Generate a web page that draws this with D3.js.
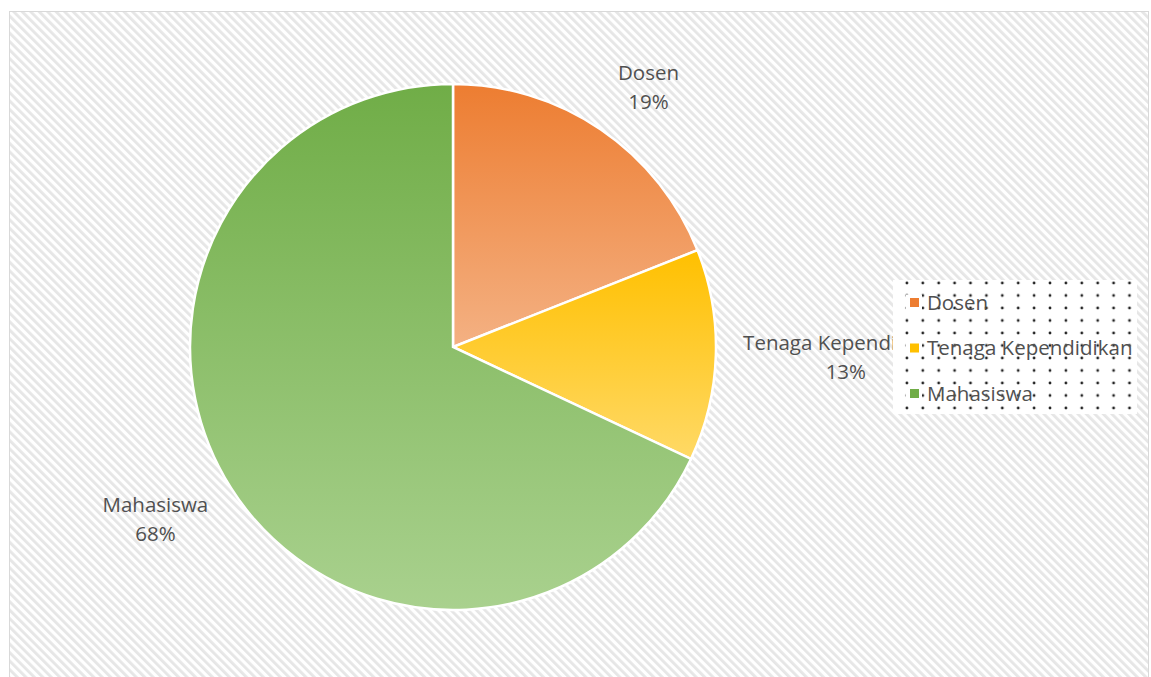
<!DOCTYPE html>
<html lang="en">
<head>
    <meta charset="UTF-8">
    <title>Pie</title>
    <script src="https://d3js.org/d3.v7.min.js"></script>
    <style>
        body { margin: 0; background: #fff; }
        text { font-family: "Open Sans", "Noto Sans", sans-serif; fill: #505050; }
    </style>
</head>
<body>
<svg width="1151" height="677"></svg>
<script>
    // data
    const categories = ["Dosen", "Tenaga Kependidikan", "Mahasiswa"];
    const values = [19, 13, 68];
    const percentLabels = ["19%", "13%", "68%"];

    const colorTop = ["#ED7D31", "#FFC000", "#70AD47"];
    const colorBottom = ["#F4B183", "#FFD966", "#A9D18E"];

    const width = 1151, height = 677;
    const cx = 453, cy = 347, radius = 263;
    const fontSize = 20.5, lineH = 29;
    // label placement: radius of label ring and small per-slice nudges
    const labelRadius = 330;
    const labelNudge = [[10, 13], [63, 0], [-19, -5]];

    const svg = d3.select('svg');
    const defs = svg.append('defs');

    // background hatch
    const hatch = defs.append('pattern')
        .attr('id', 'hatch')
        .attr('width', 6).attr('height', 6)
        .attr('patternUnits', 'userSpaceOnUse')
        .attr('patternTransform', 'rotate(-45)');
    hatch.append('rect').attr('width', 6).attr('height', 6).attr('fill', '#fff');
    hatch.append('rect').attr('width', 2.8).attr('height', 6).attr('fill', '#e6e6e6');

    // legend dots
    const dots = defs.append('pattern')
        .attr('id', 'dots')
        .attr('x', 891).attr('y', 283)
        .attr('width', 15.9).attr('height', 12.5)
        .attr('patternUnits', 'userSpaceOnUse');
    dots.append('rect').attr('x', -1).attr('y', -1).attr('width', 18).attr('height', 14).attr('fill', '#fff');
    [[0, 0], [15.9, 0], [0, 12.5], [15.9, 12.5]].forEach(function(p) {
        dots.append('circle').attr('cx', p[0]).attr('cy', p[1]).attr('r', 1.4).attr('fill', '#222');
    });

    svg.append('rect')
        .attr('x', 9.5).attr('y', 11.5)
        .attr('width', 1139).attr('height', 680)
        .attr('fill', 'url(#hatch)')
        .attr('stroke', '#d9d9d9');

    const pie = d3.pie().sort(null).value(d => d)(values);
    const arc = d3.arc().innerRadius(0).outerRadius(radius);
    const labelArc = d3.arc().innerRadius(labelRadius).outerRadius(labelRadius);

    const g = svg.append('g').attr('transform', `translate(${cx},${cy})`);

    pie.forEach(function(p, i) {
        // vertical gradient over each slice's bounding box
        const grad = defs.append('linearGradient')
            .attr('id', 'grad' + i)
            .attr('x1', 0).attr('y1', 0).attr('x2', 0).attr('y2', 1);
        grad.append('stop').attr('offset', '0%').attr('stop-color', colorTop[i]);
        grad.append('stop').attr('offset', '100%').attr('stop-color', colorBottom[i]);
    });

    g.selectAll('path.slice')
        .data(pie)
        .enter().append('path')
        .attr('class', 'slice')
        .attr('d', arc)
        .attr('fill', (d, i) => `url(#grad${i})`)
        .attr('stroke', '#fff')
        .attr('stroke-width', 2.5);

    // data labels
    const labels = g.selectAll('g.lbl')
        .data(pie)
        .enter().append('g')
        .attr('class', 'lbl')
        .attr('transform', function(d, i) {
            const c = labelArc.centroid(d);
            return `translate(${c[0] + labelNudge[i][0]},${c[1] + labelNudge[i][1] - 7})`;
        });
    const lt = labels.append('text')
        .attr('text-anchor', 'middle')
        .style('font-size', fontSize + 'px');
    lt.append('tspan').attr('x', 0).attr('dy', 0).text((d, i) => categories[i]);
    lt.append('tspan').attr('x', 0).attr('dy', lineH).text((d, i) => percentLabels[i]);

    // legend
    const legend = svg.append('g');
    legend.append('rect')
        .attr('x', 893).attr('y', 280)
        .attr('width', 244).attr('height', 134)
        .attr('fill', 'url(#dots)');

    const ly = d3.scalePoint().domain(categories).range([302.5, 393.5]);
    legend.selectAll('rect.halo')
        .data(categories).enter().append('rect')
        .attr('class', 'halo')
        .attr('x', 906).attr('y', d => ly(d) - 8)
        .attr('width', 16).attr('height', 16)
        .attr('fill', '#fff');
    legend.selectAll('rect.key')
        .data(categories).enter().append('rect')
        .attr('class', 'key')
        .attr('x', 910).attr('y', d => ly(d) - 4.5)
        .attr('width', 9).attr('height', 9)
        .attr('fill', (d, i) => colorTop[i]);
    legend.selectAll('text.item')
        .data(categories).enter().append('text')
        .attr('class', 'item')
        .attr('x', 927).attr('y', d => ly(d) + 7)
        .style('font-size', fontSize + 'px')
        .text(d => d);
</script>
</body>
</html>
